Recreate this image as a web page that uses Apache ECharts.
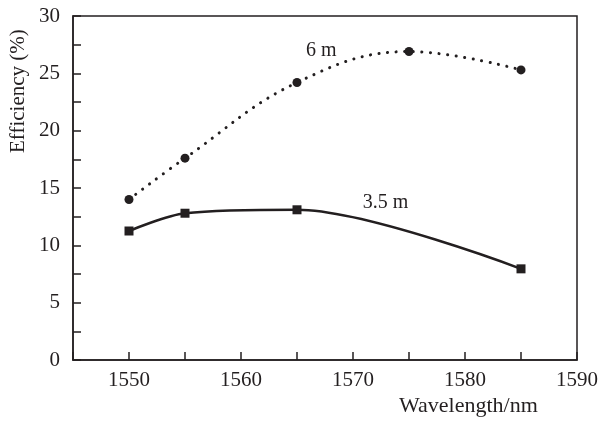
<!DOCTYPE html>
<html>
<head>
<meta charset="utf-8">
<script src="https://cdn.jsdelivr.net/npm/echarts@6/dist/echarts.min.js"></script>
<style>
  html, body { margin: 0; padding: 0; background: #fff; }
  #chart { width: 601px; height: 421px; }
</style>
</head>
<body>
<div id="chart"></div>
<script>
const wavelengths = [1550, 1555, 1565, 1575, 1585]
const eff6m = [14.0, 17.6, 24.2, 26.9, 25.3]
const wavelengths35 = [1550, 1555, 1565, 1585]
const eff35m = [11.25, 12.8, 13.1, 7.95]

const font = 'Liberation Serif'
const ink = '#231f20'

const chart = echarts.init(document.getElementById('chart'), null, { renderer: 'canvas' })

chart.setOption({
  animation: false,
  backgroundColor: '#fff',
  grid: {
    left: 73, right: 23, top: 16, bottom: 61,
    show: true, borderColor: ink, borderWidth: 1.5
  },
  xAxis: {
    type: 'value',
    min: 1545,
    max: 1590,
    interval: 5,
    axisLine: { lineStyle: { color: ink, width: 1.5 } },
    axisTick: { inside: true, length: 8, lineStyle: { color: ink, width: 1.5 } },
    axisLabel: {
      color: ink, fontFamily: font, fontSize: 21, margin: 10,
      formatter: (v) => (v % 10 === 0 && v > 1545 ? String(v) : '')
    },
    splitLine: { show: false }
  },
  yAxis: {
    type: 'value',
    min: 0,
    max: 30,
    interval: 2.5,
    axisLine: { show: true, lineStyle: { color: ink, width: 1.5 } },
    axisTick: { show: true, inside: true, length: 8, lineStyle: { color: ink, width: 1.5 } },
    axisLabel: {
      color: ink, fontFamily: font, fontSize: 21, margin: 13,
      formatter: (v) => (v % 5 === 0 ? String(v) : '')
    },
    splitLine: { show: false }
  },
  series: [
    {
      name: '6 m',
      type: 'line',
      smooth: 0.4,
      data: wavelengths.map((w, i) => [w, eff6m[i]]),
      symbol: 'circle',
      symbolSize: 9,
      itemStyle: { color: ink },
      lineStyle: { color: ink, width: 3, type: [0.1, 8.5], cap: 'round' }
    },
    {
      name: '3.5 m',
      type: 'line',
      smooth: 0.3,
      data: wavelengths35.map((w, i) => [w, eff35m[i]]),
      symbol: 'rect',
      symbolSize: 9,
      itemStyle: { color: ink },
      lineStyle: { color: ink, width: 2.5 }
    }
  ]
})

const p6 = chart.convertToPixel({ gridIndex: 0 }, [1567.5, 26.6])
const p35 = chart.convertToPixel({ gridIndex: 0 }, [1573.2, 13.5])

chart.setOption({
  graphic: [
    {
      type: 'text', left: p6[0] - 19, top: p6[1] - 14,
      style: { text: '6 m', font: '20px ' + font, fill: ink }
    },
    {
      type: 'text', left: p35[0] - 26, top: p35[1] - 12,
      style: { text: '3.5 m', font: '20px ' + font, fill: ink }
    },
    {
      type: 'text', rotation: Math.PI / 2, x: 8, y: 153,
      style: { text: 'Efficiency (%)', font: '21px ' + font, fill: ink }
    },
    {
      type: 'text', x: 399, y: 395,
      style: { text: 'Wavelength/nm', font: '22px ' + font, fill: ink }
    }
  ]
})
</script>
</body>
</html>
